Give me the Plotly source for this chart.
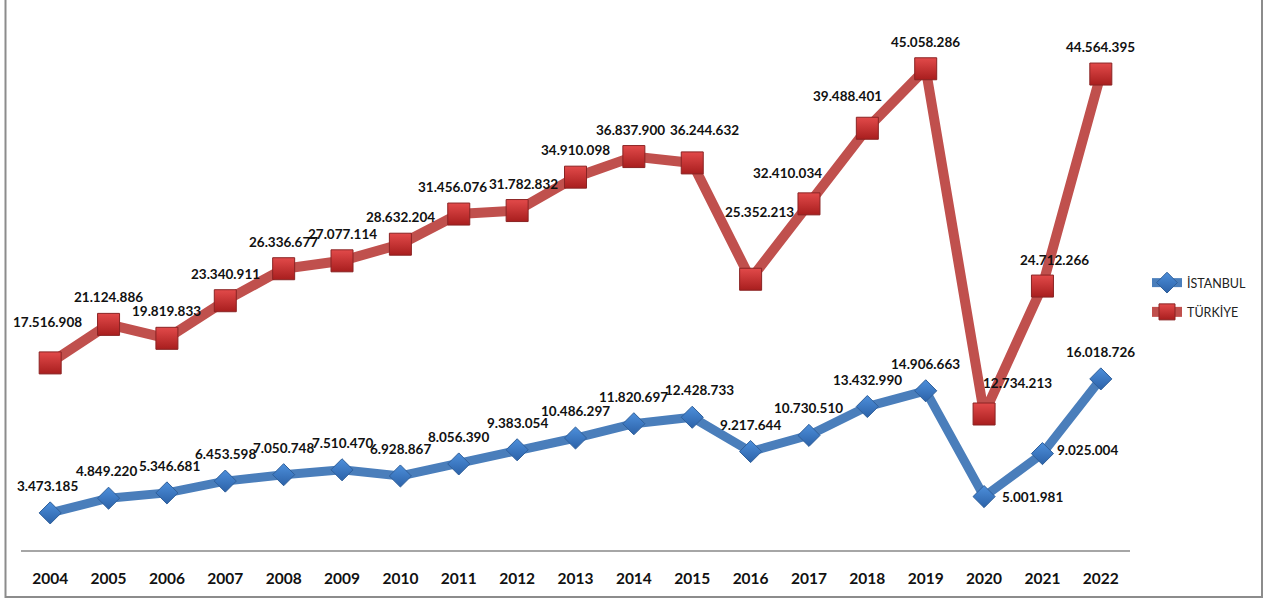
import plotly.graph_objects as go

years = list(range(2004, 2023))
istanbul = [3473185, 4849220, 5346681, 6453598, 7050748, 7510470, 6928867, 8056390,
            9383054, 10486297, 11820697, 12428733, 9217644, 10730510, 13432990,
            14906663, 5001981, 9025004, 16018726]
turkiye = [17516908, 21124886, 19819833, 23340911, 26336677, 27077114, 28632204,
           31456076, 31782832, 34910098, 36837900, 36244632, 25352213, 32410034,
           39488401, 45058286, 12734213, 24712266, 44564395]
series_names = ["İSTANBUL", "TÜRKİYE"]

FONT = "Lato"

# label placement (pixel shifts) - style only
DEF_SHIFT = (0, 27)
ist_shift = {2004: (-3, 27), 2005: (-2, 27), 2006: (3, 27), 2015: (7, 27),
             2020: (48, 0), 2021: (45, 4)}
tur_shift = {2004: (-3, 41), 2011: (-6, 27), 2012: (6, 27), 2014: (-3, 27),
             2015: (12, 33), 2016: (9, 67), 2017: (-21, 31),
             2018: (-20, 32), 2020: (33, 31), 2021: (12, 26)}


def fmt(v):
    return f"{v:,}".replace(",", ".")


fig = go.Figure()
fig.add_trace(go.Scatter(
    x=years, y=istanbul, name=series_names[0], mode="lines+markers",
    legendgroup="a",
    line=dict(color="#4A7EBB", width=9),
    marker=dict(symbol="diamond", size=17, color="#4D8FDB",
                gradient=dict(type="vertical", color="#2C62A8"),
                line=dict(color="#2F5F9A", width=1)),
    hoverinfo="skip"))
fig.add_trace(go.Scatter(
    x=years, y=turkiye, name=series_names[1], mode="lines+markers",
    legendgroup="b",
    line=dict(color="#C0504D", width=10),
    marker=dict(symbol="square", size=22, color="#E24A4A",
                gradient=dict(type="vertical", color="#A81E1E"),
                line=dict(color="#8A2323", width=1)),
    hoverinfo="skip"))

annotations = []
for vals, shifts in ((istanbul, ist_shift), (turkiye, tur_shift)):
    for yr, v in zip(years, vals):
        xs, ys = shifts.get(yr, DEF_SHIFT)
        annotations.append(dict(
            x=yr, y=v, xref="x", yref="y", text=fmt(v), showarrow=False,
            xshift=xs, yshift=ys,
            font=dict(family=FONT, size=13.5, color="#111111", weight="bold")))

L, R, T, B = 21, 1130, 16, 550
W, H = 1270, 602
pw, ph = R - L, B - T


def px_x(p):
    return (p - L) / pw


def px_y(p):
    return (B - p) / ph


fig.update_layout(
    width=W, height=H,
    margin=dict(l=L, r=W - R, t=T, b=H - B, pad=0),
    paper_bgcolor="white", plot_bgcolor="white",
    font=dict(family=FONT, color="#111111"),
    showlegend=True,
    legend=dict(x=px_x(1147), y=px_y(268), xanchor="left", yanchor="top",
                traceorder="grouped", tracegroupgap=10,
                font=dict(family=FONT, size=12.5, color="#222222"),
                bgcolor="rgba(0,0,0,0)", itemwidth=30),
    xaxis=dict(range=[2003.5, 2022.5], tickvals=years, ticktext=[str(y) for y in years],
               showgrid=False, zeroline=False, showline=True, linecolor="#A6A6A6",
               linewidth=1.5, ticks="", ticklabelstandoff=14,
               tickfont=dict(family=FONT, size=15.5, color="#111111", weight="bold")),
    yaxis=dict(range=[0, 50000000], visible=False, showgrid=False, zeroline=False),
    annotations=annotations,
    shapes=[dict(type="rect", xref="paper", yref="paper",
                 x0=px_x(5.5), x1=px_x(1262), y0=px_y(597), y1=px_y(-5),
                 line=dict(color="#8C8C8C", width=2), fillcolor="rgba(0,0,0,0)",
                 layer="below")],
)

fig.write_html("out.html")
